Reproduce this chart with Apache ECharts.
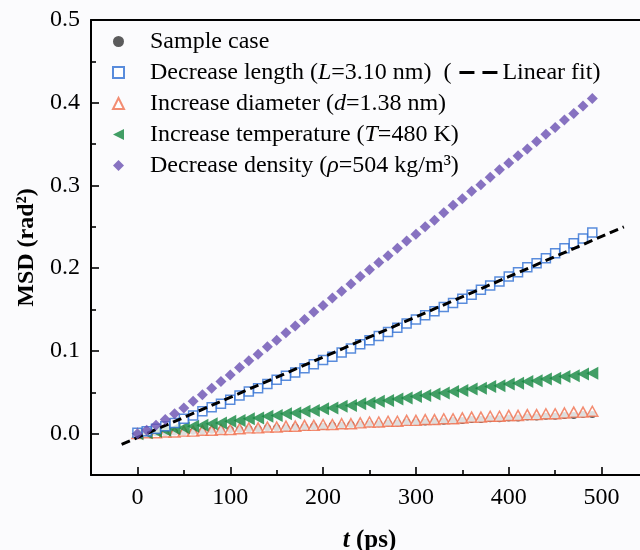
<!DOCTYPE html>
<html>
<head>
<meta charset="utf-8">
<script src="https://cdn.jsdelivr.net/npm/echarts@6/dist/echarts.min.js"></script>
<style>
  html, body { margin: 0; padding: 0; background: #fbfbfd; }
  #chart { width: 640px; height: 550px; }
</style>
</head>
<body>
<div id="chart"></div>
<script>
// Time axis (ps)
const times = [0, 10, 20, 30, 40, 50, 60, 70, 80, 90,
  100, 110, 120, 130, 140, 150, 160, 170, 180, 190,
  200, 210, 220, 230, 240, 250, 260, 270, 280, 290,
  300, 310, 320, 330, 340, 350, 360, 370, 380, 390,
  400, 410, 420, 430, 440, 450, 460, 470, 480, 490];

// MSD (rad^2) for each case
const sampleCase = [0.000, 0.000, 0.001, 0.001, 0.002, 0.002, 0.003, 0.003, 0.004, 0.004,
  0.005, 0.005, 0.006, 0.006, 0.007, 0.007, 0.007, 0.008, 0.008, 0.009,
  0.009, 0.010, 0.010, 0.011, 0.011, 0.012, 0.012, 0.013, 0.013, 0.014,
  0.014, 0.014, 0.015, 0.015, 0.016, 0.016, 0.017, 0.017, 0.018, 0.018,
  0.019, 0.019, 0.020, 0.020, 0.021, 0.021, 0.022, 0.022, 0.023, 0.023];

const decreaseLength = [0.001, 0.003, 0.006, 0.009, 0.013, 0.018, 0.022, 0.027, 0.032, 0.036,
  0.041, 0.046, 0.051, 0.055, 0.060, 0.065, 0.070, 0.074, 0.079, 0.084,
  0.089, 0.093, 0.098, 0.103, 0.108, 0.113, 0.118, 0.123, 0.128, 0.133,
  0.138, 0.143, 0.148, 0.153, 0.158, 0.163, 0.168, 0.174, 0.179, 0.184,
  0.190, 0.195, 0.201, 0.206, 0.212, 0.218, 0.224, 0.230, 0.236, 0.243];

const increaseDiameter = [0.000, 0.001, 0.001, 0.002, 0.002, 0.003, 0.003, 0.004, 0.004, 0.005,
  0.005, 0.006, 0.007, 0.007, 0.008, 0.008, 0.009, 0.009, 0.010, 0.010,
  0.011, 0.011, 0.012, 0.012, 0.013, 0.014, 0.014, 0.015, 0.015, 0.016,
  0.016, 0.017, 0.017, 0.018, 0.018, 0.019, 0.020, 0.020, 0.021, 0.021,
  0.022, 0.022, 0.023, 0.023, 0.024, 0.024, 0.025, 0.026, 0.026, 0.027];

const increaseTemperature = [0.000, 0.001, 0.003, 0.004, 0.006, 0.007, 0.009, 0.010, 0.012, 0.013,
  0.015, 0.016, 0.018, 0.019, 0.021, 0.022, 0.024, 0.025, 0.027, 0.028,
  0.030, 0.031, 0.033, 0.034, 0.036, 0.037, 0.039, 0.040, 0.042, 0.043,
  0.045, 0.046, 0.048, 0.049, 0.051, 0.052, 0.054, 0.055, 0.057, 0.058,
  0.060, 0.061, 0.063, 0.064, 0.066, 0.067, 0.069, 0.070, 0.072, 0.073];

const decreaseDensity = [0.000, 0.004, 0.010, 0.017, 0.024, 0.031, 0.039, 0.047, 0.055, 0.063,
  0.071, 0.080, 0.088, 0.096, 0.105, 0.113, 0.122, 0.130, 0.138, 0.147,
  0.155, 0.164, 0.172, 0.181, 0.190, 0.198, 0.207, 0.215, 0.224, 0.233,
  0.241, 0.250, 0.258, 0.267, 0.276, 0.284, 0.293, 0.301, 0.310, 0.319,
  0.327, 0.336, 0.344, 0.353, 0.362, 0.370, 0.379, 0.387, 0.396, 0.405];

// Linear fit of the decrease-length case (end points)
const fitTimes = [-17, 524];
const fitValues = [-0.0130, 0.2500];

// Axis ticks
const xMajorTicks = [0, 100, 200, 300, 400, 500];
const xMinorTicks = [50, 150, 250, 350, 450];
const yMajorTicks = [0.0, 0.1, 0.2, 0.3, 0.4, 0.5];
const yMinorTicks = [0.05, 0.15, 0.25, 0.35, 0.45];

const seriesNames = [
  'Sample case',
  'Decrease length',
  'Increase diameter',
  'Increase temperature',
  'Decrease density'
];

const FONT = '"Liberation Serif", "Times New Roman", serif';
const FS = 24;

function pairs(xs, ys) {
  return xs.map((x, i) => [x, ys[i]]);
}

const legendText = {
  'Sample case': '{sp| }{n|Sample case}',
  'Decrease length': '{sp| }{n|Decrease length (}{i|L}{n|=3.10 nm)  (}{g1| }{d| }{g2| }{d| }{g3| }{n|Linear fit)}',
  'Increase diameter': '{sp| }{n|Increase diameter (}{i|d}{n|=1.38 nm)}',
  'Increase temperature': '{sp| }{n|Increase temperature (}{i|T}{n|=480 K)}',
  'Decrease density': '{sp| }{n|Decrease density (}{i|ρ}{n|=504 kg/m³)}'
};

const axisBlack = { color: '#000', width: 2 };

const chart = echarts.init(document.getElementById('chart'), null, { renderer: 'canvas' });

chart.setOption({
  backgroundColor: '#fbfbfd',
  animation: false,
  grid: { left: 91, top: 20, width: 557, bottom: 75, outerBoundsMode: 'none', containLabel: false },
  legend: {
    data: seriesNames,
    orient: 'vertical',
    left: 112,
    top: 29,
    padding: 0,
    itemWidth: 11,
    itemHeight: 11,
    itemGap: 6,
    selectedMode: false,
    formatter: name => legendText[name],
    textStyle: {
      fontFamily: FONT,
      fontSize: FS,
      color: '#000',
      lineHeight: 25,
      rich: {
        sp: { width: 21, fontSize: FS },
        n: { fontFamily: FONT, fontSize: FS, color: '#000' },
        i: { fontFamily: FONT, fontSize: FS, color: '#000', fontStyle: 'italic' },
        g1: { width: 8, fontSize: FS },
        g2: { width: 8, fontSize: FS },
        g3: { width: 5, fontSize: FS },
        d: { width: 15, height: 3, fontSize: 2, lineHeight: 3, backgroundColor: '#000', verticalAlign: 'middle' }
      }
    }
  },
  xAxis: [
    {
      type: 'value', min: -50, max: 550, position: 'bottom',
      axisLine: { show: true, onZero: false, lineStyle: axisBlack },
      axisTick: { show: true, inside: true, length: 8, customValues: xMajorTicks,
        lineStyle: { color: '#000', width: 1.6 } },
      axisLabel: { customValues: xMajorTicks, fontFamily: FONT, fontSize: FS, color: '#000', margin: 11 },
      splitLine: { show: false },
      name: '{i|t} (ps)',
      nameLocation: 'middle',
      nameGap: 53,
      nameTextStyle: {
        fontFamily: FONT, fontSize: 25, fontWeight: 'bold', color: '#000',
        rich: { i: { fontFamily: FONT, fontSize: 25, fontWeight: 'bold', fontStyle: 'italic', color: '#000' } }
      }
    },
    {
      type: 'value', min: -50, max: 550, position: 'bottom',
      axisLine: { show: false, onZero: false },
      axisTick: { show: true, inside: true, length: 5, customValues: xMinorTicks,
        lineStyle: { color: '#000', width: 1.6 } },
      axisLabel: { show: false },
      splitLine: { show: false }
    },
    {
      type: 'value', min: -50, max: 550, position: 'top',
      axisLine: { show: true, onZero: false, lineStyle: axisBlack },
      axisTick: { show: false },
      axisLabel: { show: false },
      splitLine: { show: false }
    }
  ],
  yAxis: [
    {
      type: 'value', min: -0.05, max: 0.5, position: 'left',
      axisLine: { show: true, onZero: false, lineStyle: axisBlack },
      axisTick: { show: true, inside: true, length: 8, customValues: yMajorTicks,
        lineStyle: { color: '#000', width: 1.6 } },
      axisLabel: { customValues: yMajorTicks, fontFamily: FONT, fontSize: FS, color: '#000', margin: 11,
        formatter: v => v.toFixed(1) },
      splitLine: { show: false },
      name: 'MSD (rad²)',
      nameLocation: 'middle',
      nameGap: 50,
      nameTextStyle: { fontFamily: FONT, fontSize: 24, fontWeight: 'bold', color: '#000' }
    },
    {
      type: 'value', min: -0.05, max: 0.5, position: 'left',
      axisLine: { show: false, onZero: false },
      axisTick: { show: true, inside: true, length: 5, customValues: yMinorTicks,
        lineStyle: { color: '#000', width: 1.6 } },
      axisLabel: { show: false },
      splitLine: { show: false }
    }
  ],
  series: [
    {
      name: 'Sample case', type: 'scatter',
      data: pairs(times, sampleCase),
      symbol: 'circle', symbolSize: 7,
      itemStyle: { color: '#333333' },
      z: 2
    },
    {
      name: 'Increase diameter', type: 'scatter',
      data: pairs(times, increaseDiameter),
      symbol: 'triangle', symbolSize: [11, 10],
      itemStyle: { color: '#ffffff', borderColor: '#f0704f', borderWidth: 1.5 },
      z: 3
    },
    {
      name: 'Increase temperature', type: 'scatter',
      data: pairs(times, increaseTemperature),
      symbol: 'path://M0,5 L10,0 L10,10 Z', symbolSize: [12, 13],
      itemStyle: { color: '#13873f' },
      z: 4
    },
    {
      name: 'Decrease length', type: 'scatter',
      data: pairs(times, decreaseLength),
      symbol: 'rect', symbolSize: 9,
      itemStyle: { color: '#ffffff', borderColor: '#2f6fd3', borderWidth: 1.5 },
      z: 5
    },
    {
      name: 'Linear fit', type: 'line',
      data: pairs(fitTimes, fitValues),
      showSymbol: false, symbol: 'none',
      lineStyle: { color: '#000', width: 3, type: [9, 5] },
      z: 6
    },
    {
      name: 'Decrease density', type: 'scatter',
      data: pairs(times, decreaseDensity),
      symbol: 'diamond', symbolSize: 11,
      itemStyle: { color: '#6a50b2' },
      z: 7
    }
  ]
});
</script>
</body>
</html>
